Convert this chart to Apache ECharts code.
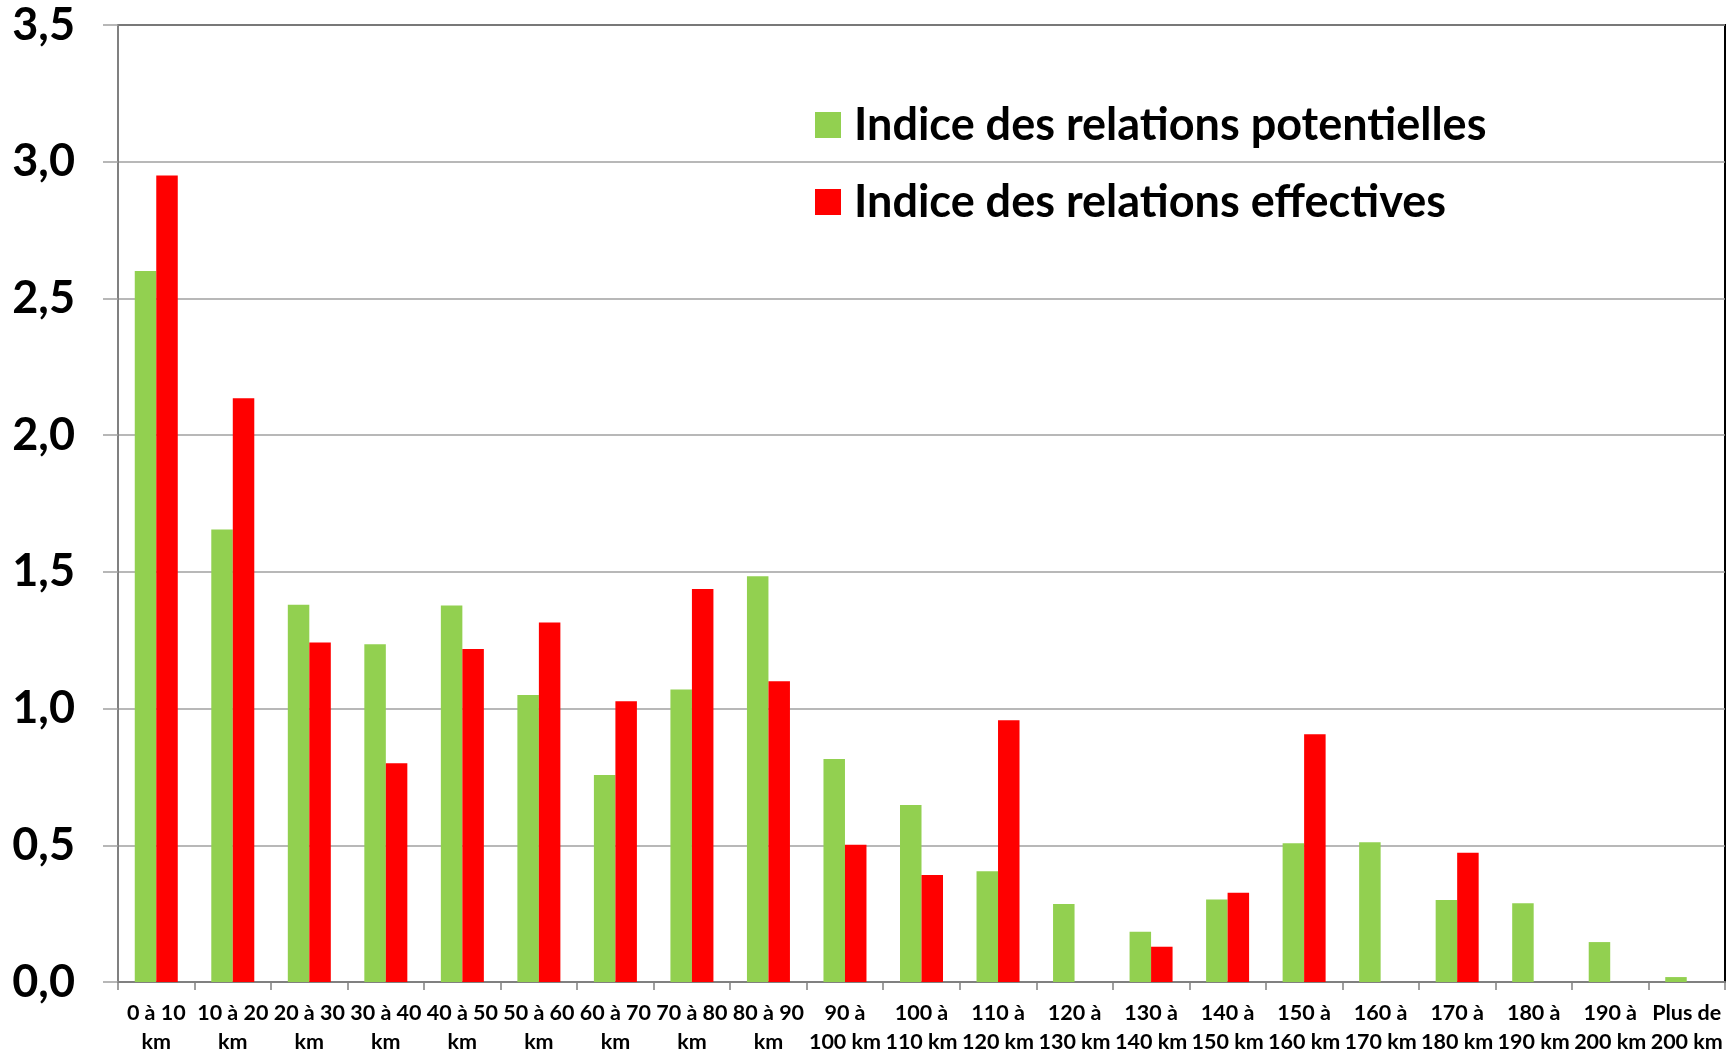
<!DOCTYPE html>
<html>
<head>
<meta charset="utf-8">
<script src="https://cdn.jsdelivr.net/npm/echarts@6/dist/echarts.min.js"></script>
<style>
html,body{margin:0;padding:0;background:#fff;}
#chart{width:1727px;height:1053px;}
</style>
</head>
<body>
<div id="chart"></div>
<script>
const categories = ['0 à 10\nkm','10 à 20\nkm','20 à 30\nkm','30 à 40\nkm','40 à 50\nkm','50 à 60\nkm','60 à 70\nkm','70 à 80\nkm','80 à 90\nkm','90 à\n100 km','100 à\n110 km','110 à\n120 km','120 à\n130 km','130 à\n140 km','140 à\n150 km','150 à\n160 km','160 à\n170 km','170 à\n180 km','180 à\n190 km','190 à\n200 km','Plus de\n200 km'];
const potentielles = [2.60,1.655,1.38,1.235,1.377,1.05,0.757,1.07,1.484,0.816,0.647,0.405,0.285,0.184,0.302,0.507,0.511,0.300,0.288,0.146,0.018];
const effectives   = [2.95,2.135,1.242,0.80,1.218,1.315,1.027,1.437,1.10,0.502,0.391,0.957,0,0.129,0.326,0.906,0,0.473,0,0,0];
const yTicks = {min:0, max:3.5, interval:0.5};

const chart = echarts.init(document.getElementById('chart'));
const font = 'Lato, "Open Sans", sans-serif';
chart.setOption({
  animation:false,
  backgroundColor:'#ffffff',
  grid:{left:118,right:2,top:25,bottom:71,show:true,borderColor:'#000',borderWidth:2,backgroundColor:'transparent',
        containLabel:false,outerBoundsMode:'none'},
  legend:{
    orient:'vertical',left:810,top:95,icon:'rect',itemWidth:26,itemHeight:26,itemGap:27,
    textStyle:{fontFamily:font,fontWeight:'bold',fontSize:45,color:'#000',lineHeight:50,padding:[0,0,0,8]},
    data:['Indice des relations potentielles','Indice des relations effectives']
  },
  xAxis:{
    type:'category',data:categories,
    axisLine:{lineStyle:{color:'#808080',width:2}},
    axisTick:{show:true,length:8,lineStyle:{color:'#808080',width:1.5}},
    axisLabel:{interval:0,margin:17,fontFamily:font,fontWeight:'bold',fontSize:21.5,color:'#000',lineHeight:29}
  },
  yAxis:{
    type:'value',min:yTicks.min,max:yTicks.max,interval:yTicks.interval,
    axisLine:{show:true,lineStyle:{color:'#808080',width:2}},
    axisTick:{show:true,length:15,lineStyle:{color:'#a0a0a0',width:1.5}},
    splitLine:{lineStyle:{color:'#a0a0a0',width:1.5}},
    axisLabel:{margin:43,fontFamily:font,fontWeight:'bold',fontSize:45,color:'#000',
      formatter:v=>v.toFixed(1).replace('.',',')}
  },
  series:[
    {name:'Indice des relations potentielles',type:'bar',data:potentielles,barWidth:21.5,barGap:'0%',itemStyle:{color:'#92D050'}},
    {name:'Indice des relations effectives',type:'bar',data:effectives,barWidth:21.5,barGap:'0%',itemStyle:{color:'#FF0000'}}
  ]
});
</script>
</body>
</html>
